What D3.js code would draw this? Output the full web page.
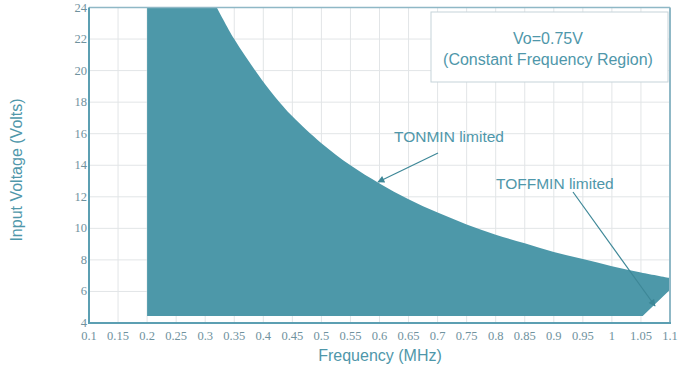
<!DOCTYPE html>
<html>
<head>
<meta charset="utf-8">
<script src="https://cdn.jsdelivr.net/npm/d3@7"></script>
<style>
  html, body { margin: 0; padding: 0; background: #ffffff; }
  svg { display: block; }
</style>
</head>
<body>
<svg id="chart" width="680" height="368"></svg>
<script>
// Operating region: upper edge (clipped at 24 V, then TONMIN limited) and lower edge (TOFFMIN limited)
const upperFreq = [0.2, 0.32, 0.35, 0.39, 0.42, 0.45, 0.5, 0.55, 0.6, 0.65, 0.7, 0.75, 0.8, 0.85, 0.9, 0.95, 1.0, 1.05, 1.1];
const upperVin  = [24, 24, 22, 19.8, 18.35, 17.1, 15.4, 14, 12.85, 11.85, 11.0, 10.25, 9.6, 9.05, 8.5, 8.05, 7.6, 7.2, 6.85];
const lowerFreq = [0.2, 1.053, 1.1];
const lowerVin  = [4.45, 4.45, 6.1];

const xTicks = [0.1, 0.15, 0.2, 0.25, 0.3, 0.35, 0.4, 0.45, 0.5, 0.55, 0.6, 0.65, 0.7, 0.75, 0.8, 0.85, 0.9, 0.95, 1, 1.05, 1.1];
const yTicks = [4, 6, 8, 10, 12, 14, 16, 18, 20, 22, 24];

const svg = d3.select("#chart");
const x = d3.scaleLinear().domain([0.1, 1.1]).range([89, 670]);
const y = d3.scaleLinear().domain([4, 24]).range([323, 7.5]);

const teal = "#4d98a9";
const axisCol = "#5c9fb2";
const textCol = "#4f97aa";
const sans = "Liberation Sans, Arial, sans-serif";

// grid
const grid = svg.append("g");
grid.selectAll("line.v").data(xTicks).join("line")
  .attr("x1", d => x(d)).attr("x2", d => x(d))
  .attr("y1", y(24)).attr("y2", y(4))
  .attr("stroke", "#e2e5e7").attr("stroke-width", 1);
grid.selectAll("line.h").data(yTicks).join("line")
  .attr("x1", x(0.1)).attr("x2", x(1.1))
  .attr("y1", d => y(d)).attr("y2", d => y(d))
  .attr("stroke", "#e2e5e7").attr("stroke-width", 1);

// region: straight 24 V cap, smooth TONMIN curve, straight lower edge back to the start
const upperPts = upperFreq.map((f, i) => [f, upperVin[i]]);
const capStart = upperPts[0];
const curvePts = upperPts.slice(1);
const curvePath = d3.line().curve(d3.curveCatmullRom.alpha(0.5))
  .x(d => x(d[0])).y(d => y(d[1]))(curvePts).replace(/^M/, "L");
const lowerPts = lowerFreq.map((f, i) => [f, lowerVin[i]]).reverse();
const lowerPath = lowerPts.map(d => "L" + x(d[0]) + "," + y(d[1])).join("");
svg.append("path")
  .attr("d", "M" + x(capStart[0]) + "," + y(capStart[1]) + curvePath + lowerPath + "Z")
  .attr("fill", teal);

// frame
svg.append("line").attr("x1", x(0.1)).attr("x2", x(1.1)).attr("y1", y(24)).attr("y2", y(24))
  .attr("stroke", "#8fb8c6").attr("stroke-width", 1.5);
svg.append("line").attr("x1", x(1.1)).attr("x2", x(1.1)).attr("y1", y(24)).attr("y2", y(4))
  .attr("stroke", "#8fb8c6").attr("stroke-width", 2);
svg.append("line").attr("x1", x(0.1)).attr("x2", x(0.1)).attr("y1", y(24)).attr("y2", y(4) + 1)
  .attr("stroke", axisCol).attr("stroke-width", 2);
svg.append("line").attr("x1", x(0.1) - 1).attr("x2", x(1.1) + 1).attr("y1", y(4)).attr("y2", y(4))
  .attr("stroke", axisCol).attr("stroke-width", 2);

// tick labels
svg.append("g").selectAll("text").data(xTicks).join("text")
  .attr("x", d => x(d)).attr("y", 340)
  .attr("text-anchor", "middle")
  .attr("font-family", "Liberation Serif, serif").attr("font-size", 12.5)
  .attr("fill", "#6f929e")
  .text(d => String(d));
svg.append("g").selectAll("text").data(yTicks).join("text")
  .attr("x", 87).attr("y", d => y(d) + 4)
  .attr("text-anchor", "end")
  .attr("font-family", "Liberation Serif, serif").attr("font-size", 12.5)
  .attr("fill", "#6f929e")
  .text(d => String(d));

// axis titles
svg.append("text").attr("x", 380).attr("y", 361).attr("text-anchor", "middle")
  .attr("font-family", sans).attr("font-size", 16)
  .attr("fill", textCol).text("Frequency (MHz)");
svg.append("text").attr("transform", "translate(22,170) rotate(-90)").attr("text-anchor", "middle")
  .attr("font-family", sans).attr("font-size", 16)
  .attr("fill", textCol).text("Input Voltage (Volts)");

// annotation box
svg.append("rect").attr("x", 431).attr("y", 12).attr("width", 237).attr("height", 70)
  .attr("fill", "#ffffff").attr("stroke", "#c5d3d9").attr("stroke-width", 1);
svg.append("text").attr("x", 548).attr("y", 44).attr("text-anchor", "middle")
  .attr("font-family", sans).attr("font-size", 16)
  .attr("fill", textCol).text("Vo=0.75V");
svg.append("text").attr("x", 548).attr("y", 65).attr("text-anchor", "middle")
  .attr("font-family", sans).attr("font-size", 16)
  .attr("fill", textCol).text("(Constant Frequency Region)");

// arrow callouts
const defs = svg.append("defs");
defs.append("marker").attr("id", "arr").attr("viewBox", "0 0 10 10")
  .attr("refX", 9).attr("refY", 5).attr("markerWidth", 10).attr("markerHeight", 7)
  .attr("markerUnits", "userSpaceOnUse").attr("orient", "auto")
  .append("path").attr("d", "M0,0 L10,5 L0,10 Z").attr("fill", "#3d8797");

svg.append("text").attr("x", 394).attr("y", 142)
  .attr("font-family", sans).attr("font-size", 15.5)
  .attr("fill", textCol).text("TONMIN limited");
svg.append("line").attr("x1", 438).attr("y1", 153).attr("x2", 378).attr("y2", 182)
  .attr("stroke", "#3d8797").attr("stroke-width", 1.2).attr("marker-end", "url(#arr)");

svg.append("text").attr("x", 496).attr("y", 189)
  .attr("font-family", sans).attr("font-size", 15.5)
  .attr("fill", textCol).text("TOFFMIN limited");
svg.append("line").attr("x1", 573).attr("y1", 192).attr("x2", 655).attr("y2", 306)
  .attr("stroke", "#3d8797").attr("stroke-width", 1.2).attr("marker-end", "url(#arr)");
</script>
</body>
</html>
